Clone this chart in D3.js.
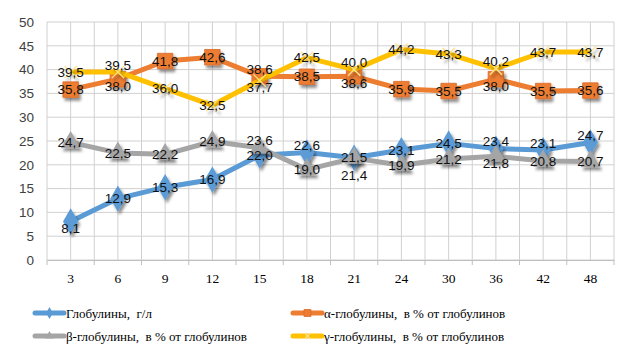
<!DOCTYPE html>
<html><head><meta charset="utf-8">
<script src="https://cdn.jsdelivr.net/npm/d3@7"></script>
<style>body{margin:0;background:#fff}svg{display:block}</style>
</head><body>
<svg id="c" width="628" height="358"></svg>
<script>
const categories = ["3","6","9","12","15","18","21","24","30","36","42","48"];
const globulins = [8.1,12.9,15.3,16.9,22.0,22.6,21.5,23.1,24.5,23.4,23.1,24.7];
const alpha = [35.8,38.0,41.8,42.6,38.6,38.5,38.6,35.9,35.5,38.0,35.5,35.6];
const beta = [24.7,22.5,22.2,24.9,23.6,19.0,21.4,19.9,21.2,21.8,20.8,20.7];
const gamma = [39.5,39.5,36.0,32.5,37.7,42.5,40.0,44.2,43.3,40.2,43.7,43.7];
const yTicks = [0,5,10,15,20,25,30,35,40,45,50];
const seriesNames = ["Глобулины,  г/л","α-глобулины,  в % от глобулинов","β-глобулины,  в % от глобулинов","γ-глобулины,  в % от глобулинов"];
// label placement codes: c = centre, a = above, b = below, f = far below
const globLabelPos = ["b","c","c","c","c","a","c","c","c","a","a","a"];
const alphaLabelPos = ["c","b","c","c","a","c","b","c","c","b","c","c"];
const betaLabelPos = ["c","c","c","c","a","c","f","c","c","b","c","c"];
const gammaLabelPos = ["c","a","c","c","b","c","a","c","c","a","c","c"];

const series = [
  {name: seriesNames[0], values: globulins, pos: globLabelPos, color: "#5B9BD5", marker: "diamond"},
  {name: seriesNames[1], values: alpha, pos: alphaLabelPos, color: "#ED7D31", marker: "square"},
  {name: seriesNames[2], values: beta, pos: betaLabelPos, color: "#A5A5A5", marker: "triangle"},
  {name: seriesNames[3], values: gamma, pos: gammaLabelPos, color: "#FFC000", marker: "x"}
];

const svg = d3.select("#c");
const L = 47, R = 614, T = 22, B = 260;
const x = d3.scaleBand().domain(categories).range([L, R]).padding(0);
const cx = c => x(c) + x.bandwidth() / 2;
const y = d3.scaleLinear().domain([0, 50]).range([B, T]);

const defs = svg.append("defs");
const f = defs.append("filter").attr("id","sh").attr("x","-50%").attr("y","-50%").attr("width","200%").attr("height","200%");
f.append("feGaussianBlur").attr("in","SourceAlpha").attr("stdDeviation",1.8).attr("result","b");
f.append("feOffset").attr("in","b").attr("dx",1.5).attr("dy",2.5).attr("result","o");
f.append("feComponentTransfer").attr("in","o").attr("result","o2").append("feFuncA").attr("type","linear").attr("slope",0.45);
const m = f.append("feMerge"); m.append("feMergeNode").attr("in","o2"); m.append("feMergeNode").attr("in","SourceGraphic");

// grid
const g = svg.append("g");
const vlines = [];
categories.forEach(c => { vlines.push(x(c)); vlines.push(cx(c)); });
vlines.push(R);
g.selectAll(".vg").data(vlines).join("line")
  .attr("x1", d => d).attr("x2", d => d).attr("y1", T).attr("y2", B)
  .attr("stroke", "#D0D0D0").attr("stroke-width", 1);
g.selectAll(".hg").data(yTicks).join("line")
  .attr("x1", L).attr("x2", R).attr("y1", d => y(d)).attr("y2", d => y(d))
  .attr("stroke", "#D0D0D0").attr("stroke-width", 1);

// y axis
const yAxis = d3.axisLeft(y).tickValues(yTicks).tickSize(0).tickPadding(13);
const ya = svg.append("g").attr("transform", `translate(${L},0)`).call(yAxis);
ya.select(".domain").remove();
ya.selectAll("text").attr("font-family", "'Liberation Sans', Arial, sans-serif").attr("font-size", 13.5).attr("fill", "#404040");

// x axis
const xAxis = d3.axisBottom(x).tickSize(0).tickPadding(13);
const xa = svg.append("g").attr("transform", `translate(0,${B})`).call(xAxis);
xa.select(".domain").attr("stroke", "#BFBFBF");
xa.selectAll("text").attr("font-family", "'Liberation Serif', 'Times New Roman', serif").attr("font-size", 13.5).attr("fill", "#000");
svg.append("g").selectAll("line").data(categories.map(c => x(c)).concat([R])).join("line")
  .attr("x1", d => d).attr("x2", d => d).attr("y1", B).attr("y2", B + 5).attr("stroke", "#BFBFBF");

const line = d3.line().x((d, i) => cx(categories[i])).y(d => y(d));

function drawMarker(sel, type, color, size) {
  if (type === "diamond") {
    sel.append("path").attr("d", d3.symbol(d3.symbolDiamond, size * 1.0)).attr("fill", color);
  } else if (type === "square") {
    sel.append("path").attr("d", d3.symbol(d3.symbolSquare, size * 1.2)).attr("fill", color).attr("stroke", "#D9682A").attr("stroke-width", 0.8);
  } else if (type === "triangle") {
    sel.append("path").attr("d", d3.symbol(d3.symbolTriangle, size * 0.85)).attr("fill", color);
  } else {
    const r = Math.sqrt(size) / 2.3;
    sel.append("path").attr("d", `M${-r},${-r}L${r},${r}M${-r},${r}L${r},${-r}`).attr("stroke", "#FFE38A").attr("stroke-width", 1.2).attr("fill", "none");
  }
}

const sg = svg.append("g");
series.forEach(s => {
  const gs = sg.append("g");
  gs.append("path").datum(s.values).attr("d", line).attr("fill", "none")
    .attr("stroke", s.color).attr("stroke-width", 5).attr("stroke-linejoin", "round");
  s.values.forEach((v, i) => {
    const mk = gs.append("g").attr("transform", `translate(${cx(categories[i])},${y(v)})`).attr("filter", "url(#sh)");
    drawMarker(mk, s.marker, s.color, 200);
  });
});

// data labels
const lg = svg.append("g").attr("font-family", "'Liberation Sans', Arial, sans-serif").attr("font-size", 13.5).attr("fill", "#111").attr("text-anchor", "middle");
const off = {c: 0, a: -7, b: 7, f: 17};
series.forEach(s => {
  s.values.forEach((v, i) => {
    lg.append("text").attr("x", cx(categories[i])).attr("y", y(v) + off[s.pos[i]])
      .attr("dy", "0.35em").text(v.toFixed(1).replace(".", ","));
  });
});

// legend
const legPos = [[35, 313], [293, 313], [35, 336], [293, 336]];
const leg = svg.append("g");
series.forEach((s, i) => {
  const [lx, ly] = legPos[i];
  const it = leg.append("g").attr("transform", `translate(${lx},${ly})`);
  it.append("line").attr("x1", 0).attr("x2", 29).attr("y1", 0).attr("y2", 0).attr("stroke", s.color).attr("stroke-width", 5).attr("stroke-linecap", "round");
  const mk = it.append("g").attr("transform", "translate(14.5,0)");
  drawMarker(mk, s.marker, s.color, 40);
  it.append("text").attr("x", 31).attr("y", 0).attr("dy", "0.35em").style("white-space", "pre")
    .attr("font-family", "'Liberation Serif', 'Times New Roman', serif").attr("font-size", 13).attr("fill", "#000").text(s.name);
});
</script>
</body></html>
